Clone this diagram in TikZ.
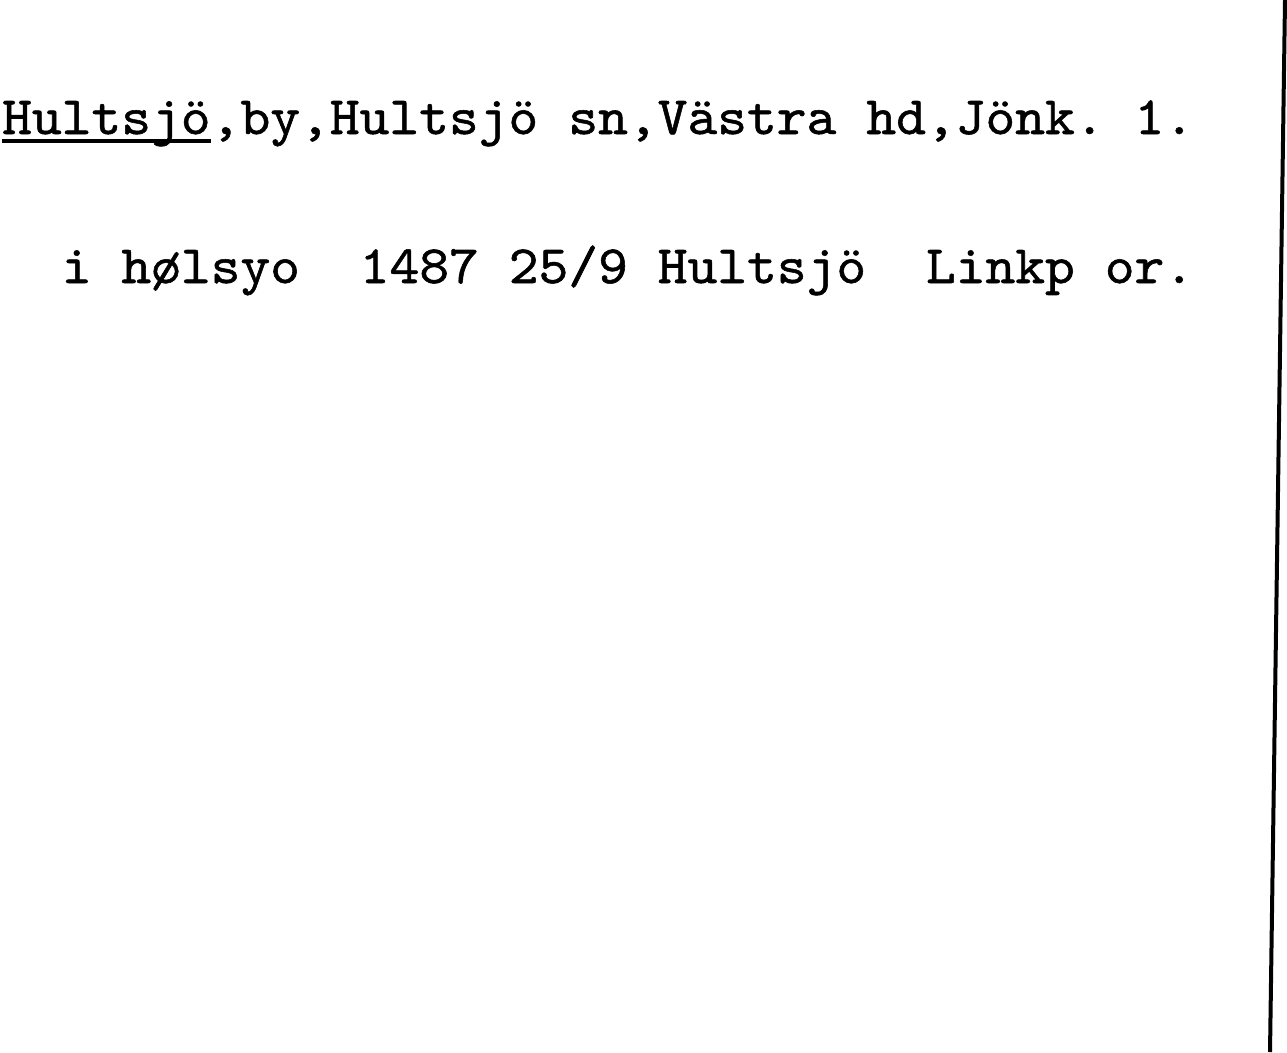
\documentclass[tikz,border=0pt]{standalone}
\usepackage{fontspec}
\newfontfamily\cardfont{lmmono10-regular}[Extension=.otf,FakeStretch=1.05,FakeBold=1]

\begin{document}
\begin{tikzpicture}[x=1pt,y=-1pt,
  typed/.style={font=\cardfont\fontsize{54}{60}\selectfont,anchor=base west,inner sep=0pt}]
\useasboundingbox (0,0) rectangle (1287,1052);
% edge of the card
\coordinate (edgetop) at (1285,0);
\coordinate (edgebot) at (1270,1052);
\draw[line width=4pt] (edgetop) -- (edgebot);
% first line
\node[typed] (head) at (2,134) {Hultsjö};
\draw[line width=4pt] ([yshift=-7pt]head.base west) -- ([yshift=-7pt]head.base east);
\foreach \i/\w in {7/{,by,Hultsjö}, 19/{sn,Västra}, 29/{hd,Jönk.}, 38/{1.}}
  \node[typed] (top\i) at (2+\i*29.8,134) {\w};
% second line
\foreach \i/\w in {2/i, 4/hølsyo, 12/1487, 17/{25/9}, 22/Hultsjö, 31/Linkp, 37/{or.}}
  \node[typed] (bot\i) at (2+\i*29.8,283) {\w};
\end{tikzpicture}
\end{document}
